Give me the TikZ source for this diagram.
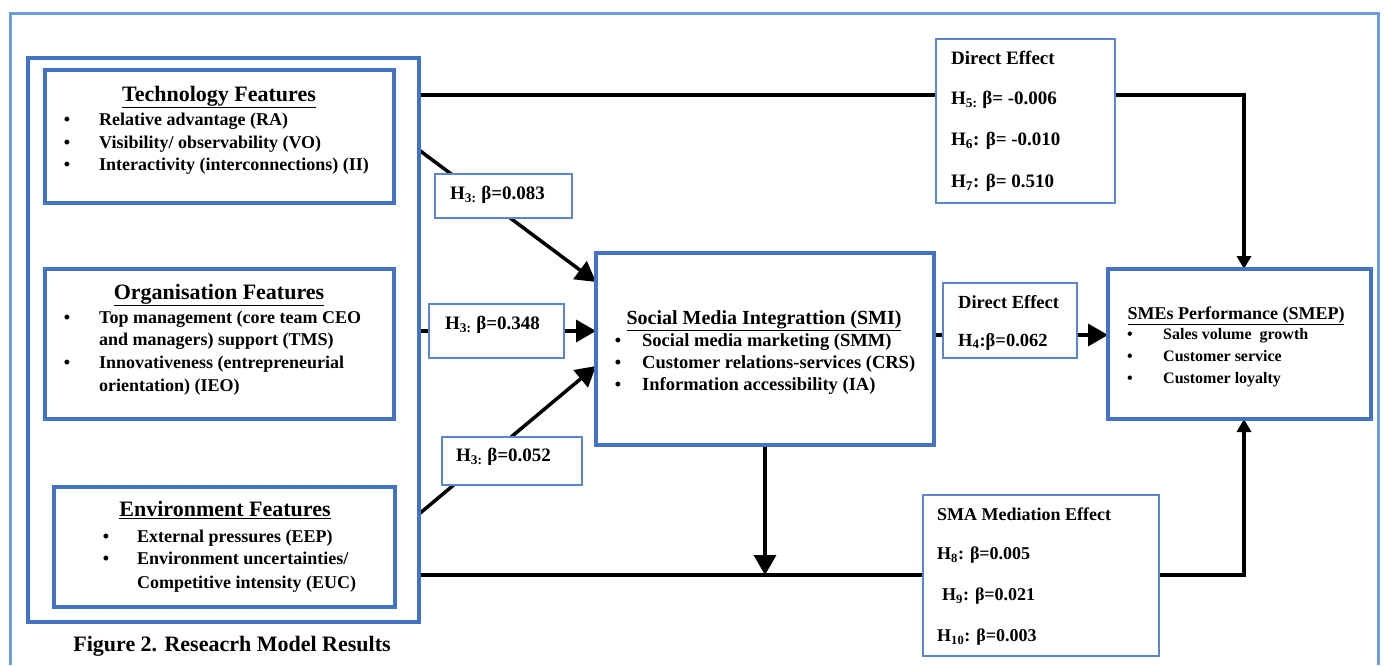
\documentclass[tikz,border=0pt]{standalone}
\usepackage{fontspec}
\setmainfont{Liberation Serif}
\usetikzlibrary{arrows.meta}
\definecolor{outerblue}{HTML}{6A9FDA}
\definecolor{boxblue}{HTML}{4472C4}
\definecolor{lblblue}{HTML}{5B86CC}
\pgfdeclarelayer{bg}
\pgfsetlayers{bg,main}
\newcommand{\fsz}[1]{\fontsize{#1}{#1}\selectfont}
\begin{document}
\begin{tikzpicture}[x=1pt,y=-1pt,
  box/.style={draw=boxblue, line width=3.5pt, inner sep=0pt, outer sep=0pt},
  lbl/.style={draw=lblblue, line width=1.3pt, fill=white, inner sep=0pt, outer sep=0pt},
  conn/.style={line width=3.5pt, black},
  arrL/.style={conn, -{Triangle[length=20pt,width=22pt]}},
  arrS/.style={conn, -{Triangle[length=13pt,width=14pt]}},
  tx/.style={inner sep=0pt, anchor=west, yshift=-4pt, text height=0.7em, text depth=0.22em, font=\bfseries\fsz{18}},
  ttl/.style={inner sep=0pt, anchor=center, yshift=-4pt, text height=0.7em, text depth=0.22em, font=\bfseries\fsz{22}},
  bul/.style={inner sep=0pt, anchor=center, yshift=-4pt, text height=0.7em, text depth=0.22em, font=\bfseries\fsz{18}},
  smitx/.style={tx, font=\bfseries\fsz{18.5}},
  smeptx/.style={tx, font=\bfseries\fsz{16}},
  detx/.style={tx, font=\bfseries\fsz{19}},
  de2tx/.style={tx, font=\bfseries\fsz{18.5}},
  smatx/.style={tx, font=\bfseries\fsz{18}},
]
\useasboundingbox (0,0) rectangle (1384,665);

% ---- boxes ----
\node[box, minimum width=391pt, minimum height=564pt] (big) at (223.5,340) {};
\node[box, minimum width=349pt, minimum height=133pt] (tech) at (219.5,136.5) {};
\node[box, minimum width=349pt, minimum height=150pt] (org) at (219.5,344) {};
\node[box, minimum width=341pt, minimum height=120pt] (env) at (224.5,547) {};
\node[box, minimum width=338pt, minimum height=192pt] (smi) at (765,349) {};
\node[box, minimum width=263pt, minimum height=150pt] (smep) at (1239.5,344) {};

\node[lbl, minimum width=179pt, minimum height=164pt] (de1) at (1025.5,121) {};
\node[lbl, minimum width=134pt, minimum height=75pt] (de2) at (1010,320.5) {};
\node[lbl, minimum width=236pt, minimum height=161pt] (sma) at (1041,575.5) {};
\node[lbl, minimum width=137pt, minimum height=44pt] (h3a) at (503.5,196) {};
\node[lbl, minimum width=135pt, minimum height=54pt] (h3b) at (496.5,331) {};
\node[lbl, minimum width=140pt, minimum height=48pt] (h3c) at (512,461) {};

% ---- helper coordinates ----
\coordinate (ytop) at (0,95);
\coordinate (ytech) at (0,150);
\coordinate (yt1) at (0,282);
\coordinate (yorg) at (0,331);
\coordinate (yenv) at (0,514);
\coordinate (yt3) at (0,366);
\coordinate (ymid) at (0,335);
\coordinate (ybot) at (0,575);
\coordinate (xv) at (1244,0);
\coordinate (junc) at (smi.south |- ybot);

% ---- connectors (behind) ----
\begin{pgfonlayer}{bg}
\draw[outerblue, line width=3pt] (10,665) -- (10,13) -- (1378,13) -- (1378,665);
\draw[conn] (big.east |- ytop) -- (de1.west |- ytop);
\draw[arrS] (de1.east |- ytop) -| (smep.north -| xv);
\draw[arrL] (big.east |- ytech) -- (smi.west |- yt1);
\draw[arrL] (big.east |- yorg) -- (smi.west |- yorg);
\draw[arrL] (big.east |- yenv) -- (smi.west |- yt3);
\draw[conn] (smi.east |- ymid) -- (de2.west |- ymid);
\draw[arrL] (de2.east |- ymid) -- (smep.west |- ymid);
\draw[arrL] (smi.south) -- (junc);
\draw[conn] (big.east |- ybot) -- (sma.west |- ybot);
\draw[arrS] (sma.east |- ybot) -| (smep.south -| xv);
\end{pgfonlayer}

% ---- Technology ----
\node[ttl] (techT) at (219,95) {\underline{Technology Features}};
\node[bul] (tb1) at (67,119) {\textbullet}; \node[tx] (tt1) at (99,119) {Relative advantage (RA)};
\node[bul] (tb2) at (67,142) {\textbullet}; \node[tx] (tt2) at (99,142) {Visibility/ observability (VO)};
\node[bul] (tb3) at (67,164) {\textbullet}; \node[tx] (tt3) at (99,164) {Interactivity (interconnections) (II)};

% ---- Organisation ----
\node[ttl] (orgT) at (219,293) {\underline{Organisation Features}};
\node[bul] (ob1) at (67,317) {\textbullet}; \node[tx] (ot1) at (99,317) {Top management (core team CEO};
\node[tx] (ot2) at (99,339) {and managers) support (TMS)};
\node[bul] (ob3) at (67,362) {\textbullet}; \node[tx] (ot3) at (99,362) {Innovativeness (entrepreneurial};
\node[tx] (ot4) at (99,385) {orientation) (IEO)};

% ---- Environment ----
\node[ttl] (envT) at (225,510) {\underline{Environment Features}};
\node[bul] (eb1) at (106,536) {\textbullet}; \node[tx] (et1) at (137,536) {External pressures (EEP)};
\node[bul] (eb2) at (106,558) {\textbullet}; \node[tx] (et2) at (137,558) {Environment uncertainties/};
\node[tx] (et3) at (137,582) {Competitive intensity (EUC)};

\node[ttl] (cap) at (232,645) {Figure 2. Reseacrh Model Results};

% ---- SMI ----
\node[ttl, font=\bfseries\fsz{20}] (smiT) at (764,318) {\underline{Social Media Integrattion (SMI)}};
\node[bul] (sb1) at (618,340) {\textbullet}; \node[smitx] (st1) at (642,340) {Social media marketing (SMM)};
\node[bul] (sb2) at (618,362) {\textbullet}; \node[smitx] (st2) at (642,362) {Customer relations-services (CRS)};
\node[bul] (sb3) at (618,384) {\textbullet}; \node[smitx] (st3) at (642,384) {Information accessibility (IA)};

% ---- SMEP ----
\node[ttl, font=\bfseries\fsz{18}] (smepT) at (1236,313) {\underline{SMEs Performance (SMEP)}};
\node[bul, font=\bfseries\fsz{16}] (pb1) at (1130,333) {\textbullet}; \node[smeptx] (pt1) at (1163,333) {Sales volume\ \ growth};
\node[bul, font=\bfseries\fsz{16}] (pb2) at (1130,355) {\textbullet}; \node[smeptx] (pt2) at (1163,355) {Customer service};
\node[bul, font=\bfseries\fsz{16}] (pb3) at (1130,377) {\textbullet}; \node[smeptx] (pt3) at (1163,377) {Customer loyalty};

% ---- Direct effect (top) ----
\node[detx] (d1a) at (951,58) {Direct Effect};
\node[detx] (d1b) at (951,98) {H\textsubscript{5:} β= -0.006};
\node[detx] (d1c) at (951,139) {H\textsubscript{6}: β= -0.010};
\node[detx] (d1d) at (951,181) {H\textsubscript{7}: β= 0.510};

% ---- Direct effect (middle) ----
\node[de2tx] (d2a) at (958,302) {Direct Effect};
\node[de2tx] (d2b) at (958,340) {H\textsubscript{4}:β=0.062};

% ---- SMA mediation ----
\node[smatx] (m1) at (937,514) {SMA Mediation Effect};
\node[smatx] (m2) at (937,553) {H\textsubscript{8}: β=0.005};
\node[smatx] (m3) at (942,594) {H\textsubscript{9}: β=0.021};
\node[smatx] (m4) at (937,635) {H\textsubscript{10}: β=0.003};

% ---- H3 labels ----
\node[detx] (ha) at (450,193) {H\textsubscript{3:} β=0.083};
\node[detx] (hb) at (445,323) {H\textsubscript{3:} β=0.348};
\node[detx] (hc) at (456,455) {H\textsubscript{3:} β=0.052};
\end{tikzpicture}
\end{document}
